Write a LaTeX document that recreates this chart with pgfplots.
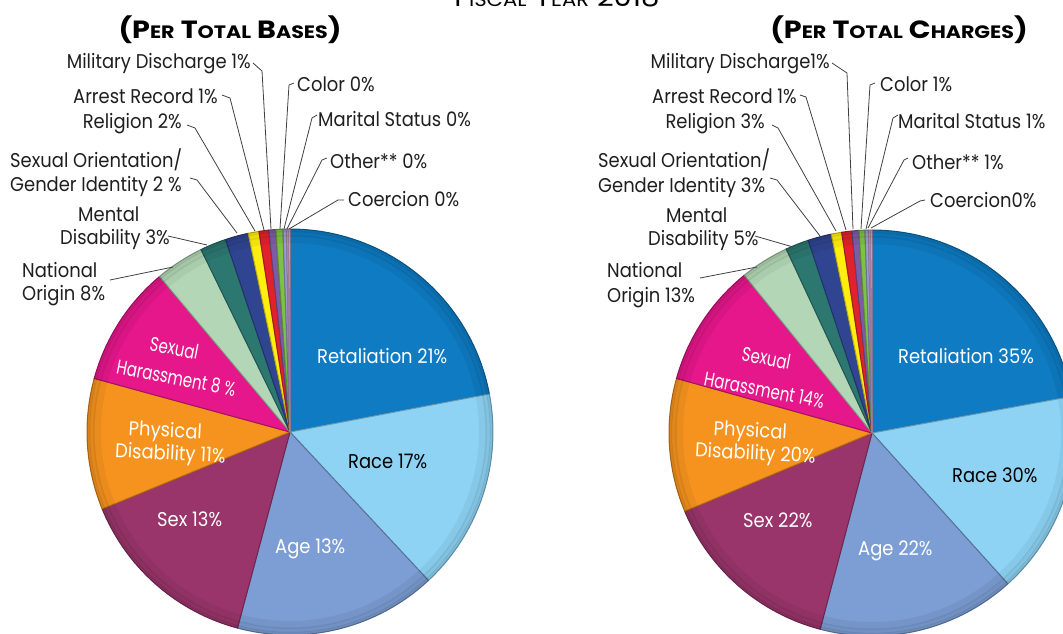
\documentclass[border=0pt]{standalone}
\usepackage{pgfplots}
\pgfplotsset{compat=1.18}
\usepackage{fontspec}
\setmainfont{Poppins}
\newfontfamily\lblfont{Poppins}[FakeStretch=0.90]
\newfontfamily\ttlfont{Poppins}[FakeStretch=1.15]
\newfontfamily\topfont{Poppins}[FakeStretch=1.12]

\definecolor{cRet}{HTML}{0E7BC2}
\definecolor{cRace}{HTML}{8ED3F4}
\definecolor{cAge}{HTML}{7C9ED4}
\definecolor{cSex}{HTML}{99356B}
\definecolor{cPhys}{HTML}{F6931F}
\definecolor{cSH}{HTML}{E5178B}
\definecolor{cNO}{HTML}{B3D7B6}
\definecolor{cMent}{HTML}{2C7870}
\definecolor{cSO}{HTML}{304592}
\definecolor{cRel}{HTML}{FFEE10}
\definecolor{cArr}{HTML}{E2222B}
\definecolor{cMil}{HTML}{7E5BA7}
\definecolor{cCol}{HTML}{7CC243}
\definecolor{cMar}{HTML}{9C9CD2}
\definecolor{cOth}{HTML}{C6A5D6}
\definecolor{cCoe}{HTML}{E8A9D1}

% one sector: start angle, end angle (degrees), colour
\newcommand{\slice}[3]{%
  \addplot[fill=#3, draw=#3!72!black, line width=1bp, domain=#1:#2, samples=60]
    ({cos(x)},{sin(x)}) -- (axis cs:0,0) -- cycle;}
% soft darkening along the rim, for the bevelled look
\newcommand{\rim}{%
  \draw[black, opacity=0.05, line width=8bp] (axis cs:0,0) circle[radius=193bp];
  \draw[black, opacity=0.08, line width=5bp] (axis cs:0,0) circle[radius=198bp];
  \draw[black, opacity=0.12, line width=3bp] (axis cs:0,0) circle[radius=201.5bp];}

\pgfplotsset{pie/.style={hide axis, scale only axis, width=446.6bp, height=446.6bp,
  xmin=-1.1, xmax=1.1, ymin=-1.1, ymax=1.1, anchor=center, clip=false}}

\begin{document}
\begin{tikzpicture}
\useasboundingbox (0,0) rectangle (1063bp,-634bp);
\clip (0,0) rectangle (1063bp,-634bp);

% per total bases
\begin{axis}[pie, at={(290bp,-432bp)}]
\slice{10.8}{90}{cRet}
\slice{-47}{10.8}{cRace}
\slice{-105}{-47}{cAge}
\slice{-157.7}{-105}{cSex}
\slice{-195.3}{-157.7}{cPhys}
\slice{-230}{-195.3}{cSH}
\slice{-244}{-230}{cNO}
\slice{-251.5}{-244}{cMent}
\slice{-258.1}{-251.5}{cSO}
\slice{-261.2}{-258.1}{cRel}
\slice{-264}{-261.2}{cArr}
\slice{-266}{-264}{cMil}
\slice{-268}{-266}{cCol}
\slice{-269}{-268}{cMar}
\slice{-269.5}{-269}{cOth}
\slice{-270}{-269.5}{cCoe}
\rim
\end{axis}

% per total charges
\begin{axis}[pie, at={(872bp,-433bp)}]
\slice{10.4}{90}{cRet}
\slice{-48}{10.4}{cRace}
\slice{-104.8}{-48}{cAge}
\slice{-157.3}{-104.8}{cSex}
\slice{-195.6}{-157.3}{cPhys}
\slice{-231}{-195.6}{cSH}
\slice{-245}{-231}{cNO}
\slice{-251.7}{-245}{cMent}
\slice{-258.4}{-251.7}{cSO}
\slice{-261.4}{-258.4}{cRel}
\slice{-264.3}{-261.4}{cArr}
\slice{-266.3}{-264.3}{cMil}
\slice{-268}{-266.3}{cCol}
\slice{-269}{-268}{cMar}
\slice{-269.5}{-269}{cOth}
\slice{-270}{-269.5}{cCoe}
\rim
\end{axis}

\begin{scope}[x=1bp, y=-1bp,
  lbl/.style={font=\lblfont\fontsize{20}{22}\selectfont, inner sep=0pt, text=black!88},
  plab/.style={font=\lblfont\fontsize{20}{22}\selectfont, inner sep=0pt, text=white},
  ldr/.style={draw=black!75, line width=0.8bp}]

% titles
\node[font=\topfont\fontsize{26}{28}\selectfont, anchor=base] at (557,6)
  {F{\fontsize{19}{20}\selectfont ISCAL} Y{\fontsize{19}{20}\selectfont EAR} 2018};
\node[font=\ttlfont\bfseries\fontsize{25}{28}\selectfont, anchor=base] at (230,38)
  {(P{\fontsize{18}{20}\selectfont ER} T{\fontsize{18}{20}\selectfont OTAL} B{\fontsize{18}{20}\selectfont ASES})};
\node[font=\ttlfont\bfseries\fontsize{25}{28}\selectfont, anchor=base] at (899,38)
  {(P{\fontsize{18}{20}\selectfont ER} T{\fontsize{18}{20}\selectfont OTAL} C{\fontsize{18}{20}\selectfont HARGES})};

% left pie, outside labels
\node[lbl, anchor=base east] at (251,68) {Military Discharge 1\%};
\node[lbl, anchor=base east] at (218,103) {Arrest Record 1\%};
\node[lbl, anchor=base east] at (182,128) {Religion 2\%};
\node[lbl, anchor=base west] at (10,167) {Sexual Orientation/};
\node[lbl, anchor=base west] at (10,191) {Gender Identity 2 \%};
\node[lbl, anchor=base west] at (78,221) {Mental};
\node[lbl, anchor=base west] at (60,244) {Disability 3\%};
\node[lbl, anchor=base west] at (22,277) {National};
\node[lbl, anchor=base west] at (22,300) {Origin 8\%};
\node[lbl, anchor=base west] at (297,91) {Color 0\%};
\node[lbl, anchor=base west] at (318,126) {Marital Status 0\%};
\node[lbl, anchor=base west] at (330,168) {Other** 0\%};
\node[lbl, anchor=base west] at (348,206) {Coercion 0\%};
\draw[ldr] (253,63) -- (262,71) -- (271,229);
\draw[ldr] (222,95) -- (230,98) -- (264,230);
\draw[ldr] (187,125) -- (195,128) -- (255,231);
\draw[ldr] (190,178) -- (197,180) -- (237,233);
\draw[ldr] (168,236) -- (207,245);
\draw[ldr] (110,280) -- (173,267);
\draw[ldr] (294,83) -- (289,85) -- (280,229);
\draw[ldr] (317,115) -- (312,118) -- (284,229);
\draw[ldr] (327,158) -- (322,160) -- (287,229);
\draw[ldr] (344,200) -- (338,200) -- (289,229);

% left pie, inside labels
\node[plab, anchor=base west] at (317,363) {Retaliation 21\%};
\node[plab, text=black, anchor=base west] at (348,468) {Race 17\%};
\node[plab, anchor=base west] at (275,553) {Age 13\%};
\node[plab, anchor=base west] at (157,526) {Sex 13\%};
\node[plab, anchor=base, rotate=-3] at (165,437) {Physical};
\node[plab, anchor=base, rotate=-3] at (170,460) {Disability 11\%};
\node[plab, anchor=base, rotate=-11, xscale=0.84] at (173,355) {Sexual};
\node[plab, anchor=base, rotate=-11, xscale=0.84] at (175,385) {Harassment 8 \%};

% right pie, outside labels
\node[lbl, anchor=base east] at (830,68) {Military Discharge1\%};
\node[lbl, anchor=base east] at (797,103) {Arrest Record 1\%};
\node[lbl, anchor=base east] at (765,128) {Religion 3\%};
\node[lbl, anchor=base west] at (598,167) {Sexual Orientation/};
\node[lbl, anchor=base west] at (598,192) {Gender Identity 3\%};
\node[lbl, anchor=base west] at (666,222) {Mental};
\node[lbl, anchor=base west] at (648,245) {Disability 5\%};
\node[lbl, anchor=base west] at (607,277) {National};
\node[lbl, anchor=base west] at (607,302) {Origin 13\%};
\node[lbl, anchor=base west] at (880,91) {Color 1\%};
\node[lbl, anchor=base west] at (898,128) {Marital Status 1\%};
\node[lbl, anchor=base west] at (912,169) {Other** 1\%};
\node[lbl, anchor=base west] at (930,207) {Coercion0\%};
\draw[ldr] (832,63) -- (847,73) -- (853,229);
\draw[ldr] (800,95) -- (806,97) -- (846,230);
\draw[ldr] (772,125) -- (778,128) -- (836,231);
\draw[ldr] (770,178) -- (777,180) -- (820,236);
\draw[ldr] (755,236) -- (793,247);
\draw[ldr] (700,278) -- (757,267);
\draw[ldr] (875,83) -- (870,85) -- (861,229);
\draw[ldr] (898,115) -- (893,118) -- (866,229);
\draw[ldr] (908,158) -- (904,160) -- (868,228);
\draw[ldr] (925,200) -- (920,201) -- (871,228);

% right pie, inside labels
\node[plab, anchor=base west] at (898,363) {Retaliation 35\%};
\node[plab, text=black, anchor=base west] at (952,482) {Race 30\%};
\node[plab, anchor=base west] at (858,555) {Age 22\%};
\node[plab, anchor=base west] at (743,527) {Sex 22\%};
\node[plab, anchor=base, rotate=-3] at (750,437) {Physical};
\node[plab, anchor=base, rotate=-3] at (755,460) {Disability 20\%};
\node[plab, anchor=base, rotate=-11, xscale=0.84] at (765,365) {Sexual};
\node[plab, anchor=base, rotate=-11, xscale=0.84] at (763,397) {Harassment 14\%};
\end{scope}
\end{tikzpicture}
\end{document}
